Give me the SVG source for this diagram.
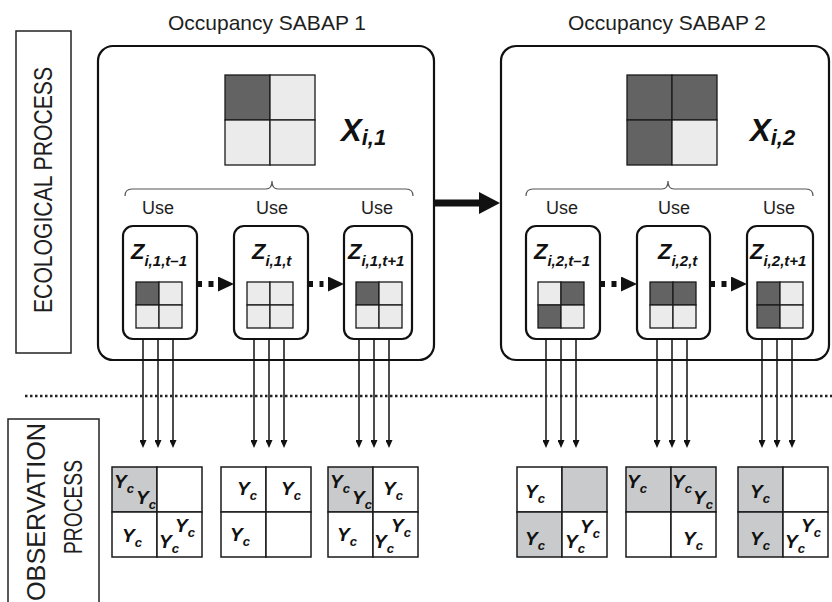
<svg xmlns="http://www.w3.org/2000/svg" width="832" height="602" viewBox="0 0 832 602">
<defs>
<style>
.lbl{font-family:"Liberation Sans",Arial,sans-serif;fill:#1e1e1e}
.ttl{font-size:21px}
.use{font-size:18px}
.side{font-size:25px}
.math{font-family:"Liberation Sans",Arial,sans-serif;font-weight:bold;font-style:italic;fill:#111}
.panel{fill:none;stroke:#111;stroke-width:2.2}
.zbox{fill:#fff;stroke:#111;stroke-width:2.2}
.lbox{fill:none;stroke:#222;stroke-width:1.5}
.dk{fill:#636363;stroke:#1a1a1a;stroke-width:1.3}
.lt{fill:#ebebeb;stroke:#1a1a1a;stroke-width:1.3}
.og{fill:#c9cacb;stroke:#1a1a1a;stroke-width:1.5}
.ow{fill:#fff;stroke:#1a1a1a;stroke-width:1.5}
.brace{fill:none;stroke:#555;stroke-width:1.2}
.vl{stroke:#111;stroke-width:1.5;marker-end:url(#ah)}
.dot{stroke:#111;stroke-width:6;stroke-dasharray:5 6.5;marker-end:url(#dh)}
.y{font-size:19px}
.c{font-size:13px}
</style>
<marker id="ah" viewBox="0 0 8 7" refX="2" refY="3.5" markerWidth="8" markerHeight="7" markerUnits="userSpaceOnUse" orient="auto"><path d="M0,0 L8,3.5 L0,7 z" fill="#111"/></marker>
<marker id="dh" viewBox="0 0 21 15" refX="0" refY="7.5" markerWidth="21" markerHeight="15" markerUnits="userSpaceOnUse" orient="auto"><path d="M4.5,0 L20.5,7.5 L4.5,15 z" fill="#111"/></marker>
</defs>
<rect width="832" height="602" fill="#fff"/>

<!-- side labels -->
<g id="label-ecological">
<rect class="lbox" x="16" y="31" width="55" height="322"/>
<text class="lbl side" transform="translate(52,190) rotate(-90)" text-anchor="middle" textLength="246" lengthAdjust="spacingAndGlyphs">ECOLOGICAL PROCESS</text>
</g>
<g id="label-observation">
<rect class="lbox" x="8" y="419" width="91" height="200"/>
<text class="lbl side" transform="translate(45,512) rotate(-90)" text-anchor="middle" textLength="178" lengthAdjust="spacingAndGlyphs">OBSERVATION</text>
<text class="lbl side" transform="translate(82,507) rotate(-90)" text-anchor="middle" textLength="94" lengthAdjust="spacingAndGlyphs">PROCESS</text>
</g>

<!-- panel 1 -->
<g id="panel-sabap1">
<text class="lbl ttl" x="267" y="30" text-anchor="middle">Occupancy SABAP 1</text>
<rect class="panel" x="98" y="46" width="336" height="314" rx="15"/>
<rect class="dk" x="225" y="75" width="45" height="45"/>
<rect class="lt" x="270" y="75" width="45" height="45"/>
<rect class="lt" x="225" y="120" width="45" height="45"/>
<rect class="lt" x="270" y="120" width="45" height="45"/>
<text class="math" x="341" y="141" font-size="31">X<tspan font-size="22" dy="4">i,1</tspan></text>
<path class="brace" d="M125,196 Q125,189 132,189 L266,189 Q272,189 272,181 Q272,189 278,189 L406,189 Q413,189 413,196"/>
<text class="lbl use" x="158" y="214" text-anchor="middle">Use</text>
<text class="lbl use" x="272" y="214" text-anchor="middle">Use</text>
<text class="lbl use" x="377" y="214" text-anchor="middle">Use</text>
</g>

<g id="z-1-tm1">
<rect class="zbox" x="123" y="226" width="74" height="113" rx="10"/>
<text class="math" x="131" y="259" font-size="22">Z<tspan font-size="15" dy="7">i,1,t–1</tspan></text>
<rect class="dk" x="136" y="282" width="23" height="23"/><rect class="lt" x="159" y="282" width="23" height="23"/>
<rect class="lt" x="136" y="305" width="23" height="23"/><rect class="lt" x="159" y="305" width="23" height="23"/>
</g>
<g id="z-1-t">
<rect class="zbox" x="234" y="226" width="74" height="113" rx="10"/>
<text class="math" x="252" y="259" font-size="22">Z<tspan font-size="15" dy="7">i,1,t</tspan></text>
<rect class="lt" x="247" y="282" width="23" height="23"/><rect class="lt" x="270" y="282" width="23" height="23"/>
<rect class="lt" x="247" y="305" width="23" height="23"/><rect class="lt" x="270" y="305" width="23" height="23"/>
</g>
<g id="z-1-tp1">
<rect class="zbox" x="344" y="226" width="68" height="113" rx="10"/>
<text class="math" x="348" y="259" font-size="22">Z<tspan font-size="15" dy="7">i,1,t+1</tspan></text>
<rect class="dk" x="356" y="282" width="23" height="23"/><rect class="lt" x="379" y="282" width="23" height="23"/>
<rect class="lt" x="356" y="305" width="23" height="23"/><rect class="lt" x="379" y="305" width="23" height="23"/>
</g>

<!-- panel 2 -->
<g id="panel-sabap2">
<text class="lbl ttl" x="667" y="30" text-anchor="middle">Occupancy SABAP 2</text>
<rect class="panel" x="501" y="46" width="328" height="314" rx="15"/>
<rect class="dk" x="627" y="75" width="45" height="45"/>
<rect class="dk" x="672" y="75" width="45" height="45"/>
<rect class="dk" x="627" y="120" width="45" height="45"/>
<rect class="lt" x="672" y="120" width="45" height="45"/>
<text class="math" x="750" y="141" font-size="31">X<tspan font-size="22" dy="4">i,2</tspan></text>
<path class="brace" d="M526,196 Q526,189 533,189 L662,189 Q668,189 668,181 Q668,189 674,189 L806,189 Q813,189 813,196"/>
<text class="lbl use" x="562" y="214" text-anchor="middle">Use</text>
<text class="lbl use" x="674" y="214" text-anchor="middle">Use</text>
<text class="lbl use" x="779" y="214" text-anchor="middle">Use</text>
</g>

<g id="z-2-tm1">
<rect class="zbox" x="526" y="226" width="74" height="113" rx="10"/>
<text class="math" x="534" y="259" font-size="22">Z<tspan font-size="15" dy="7">i,2,t–1</tspan></text>
<rect class="lt" x="538" y="282" width="23" height="23"/><rect class="dk" x="561" y="282" width="23" height="23"/>
<rect class="dk" x="538" y="305" width="23" height="23"/><rect class="lt" x="561" y="305" width="23" height="23"/>
</g>
<g id="z-2-t">
<rect class="zbox" x="637" y="226" width="73" height="113" rx="10"/>
<text class="math" x="658" y="259" font-size="22">Z<tspan font-size="15" dy="7">i,2,t</tspan></text>
<rect class="dk" x="650" y="282" width="23" height="23"/><rect class="dk" x="673" y="282" width="23" height="23"/>
<rect class="lt" x="650" y="305" width="23" height="23"/><rect class="lt" x="673" y="305" width="23" height="23"/>
</g>
<g id="z-2-tp1">
<rect class="zbox" x="747" y="226" width="66" height="113" rx="10"/>
<text class="math" x="750" y="259" font-size="22">Z<tspan font-size="15" dy="7">i,2,t+1</tspan></text>
<rect class="dk" x="757" y="282" width="23" height="23"/><rect class="lt" x="780" y="282" width="23" height="23"/>
<rect class="dk" x="757" y="305" width="23" height="23"/><rect class="lt" x="780" y="305" width="23" height="23"/>
</g>

<!-- connectors -->
<g id="connectors">
<line x1="434" y1="203" x2="481" y2="203" stroke="#111" stroke-width="7"/>
<polygon points="479,192 500,203 479,214" fill="#111"/>
<line class="dot" x1="197" y1="284" x2="213.5" y2="284"/>
<line class="dot" x1="308" y1="284" x2="323.5" y2="284"/>
<line class="dot" x1="600" y1="284" x2="616.5" y2="284"/>
<line class="dot" x1="710" y1="284" x2="726.5" y2="284"/>
<line class="vl" x1="143" y1="339" x2="143" y2="442"/>
<line class="vl" x1="158" y1="339" x2="158" y2="442"/>
<line class="vl" x1="173" y1="339" x2="173" y2="442"/>
<line class="vl" x1="254" y1="339" x2="254" y2="442"/>
<line class="vl" x1="269" y1="339" x2="269" y2="442"/>
<line class="vl" x1="284" y1="339" x2="284" y2="442"/>
<line class="vl" x1="359" y1="339" x2="359" y2="442"/>
<line class="vl" x1="374" y1="339" x2="374" y2="442"/>
<line class="vl" x1="389" y1="339" x2="389" y2="442"/>
<line class="vl" x1="546" y1="339" x2="546" y2="442"/>
<line class="vl" x1="561" y1="339" x2="561" y2="442"/>
<line class="vl" x1="576" y1="339" x2="576" y2="442"/>
<line class="vl" x1="657" y1="339" x2="657" y2="442"/>
<line class="vl" x1="672" y1="339" x2="672" y2="442"/>
<line class="vl" x1="687" y1="339" x2="687" y2="442"/>
<line class="vl" x1="762" y1="339" x2="762" y2="442"/>
<line class="vl" x1="777" y1="339" x2="777" y2="442"/>
<line class="vl" x1="792" y1="339" x2="792" y2="442"/>
</g>

<line x1="25" y1="396" x2="832" y2="396" stroke="#222" stroke-width="2.5" stroke-dasharray="2.5 2.5"/>

<!-- observation grids -->
<g id="obs-1-1">
<rect class="og" x="112" y="467" width="45" height="45"/><rect class="ow" x="157" y="467" width="45" height="45"/>
<rect class="ow" x="112" y="512" width="45" height="45"/><rect class="ow" x="157" y="512" width="45" height="45"/>
<text class="math y" x="114" y="488">Y<tspan class="c" dy="5">c</tspan></text>
<text class="math y" x="136" y="504">Y<tspan class="c" dy="5">c</tspan></text>
<text class="math y" x="122" y="542">Y<tspan class="c" dy="5">c</tspan></text>
<text class="math y" x="159" y="548">Y<tspan class="c" dy="5">c</tspan></text>
<text class="math y" x="175" y="532">Y<tspan class="c" dy="5">c</tspan></text>
</g>
<g id="obs-1-2">
<rect class="ow" x="221" y="467" width="45" height="45"/><rect class="ow" x="266" y="467" width="45" height="45"/>
<rect class="ow" x="221" y="512" width="45" height="45"/><rect class="ow" x="266" y="512" width="45" height="45"/>
<text class="math y" x="237" y="495">Y<tspan class="c" dy="5">c</tspan></text>
<text class="math y" x="281" y="495">Y<tspan class="c" dy="5">c</tspan></text>
<text class="math y" x="230" y="541">Y<tspan class="c" dy="5">c</tspan></text>
</g>
<g id="obs-1-3">
<rect class="og" x="328" y="467" width="45" height="45"/><rect class="ow" x="373" y="467" width="45" height="45"/>
<rect class="ow" x="328" y="512" width="45" height="45"/><rect class="ow" x="373" y="512" width="45" height="45"/>
<text class="math y" x="330" y="488">Y<tspan class="c" dy="5">c</tspan></text>
<text class="math y" x="352" y="504">Y<tspan class="c" dy="5">c</tspan></text>
<text class="math y" x="383" y="495">Y<tspan class="c" dy="5">c</tspan></text>
<text class="math y" x="337" y="541">Y<tspan class="c" dy="5">c</tspan></text>
<text class="math y" x="374" y="548">Y<tspan class="c" dy="5">c</tspan></text>
<text class="math y" x="391" y="532">Y<tspan class="c" dy="5">c</tspan></text>
</g>
<g id="obs-2-1">
<rect class="ow" x="517" y="467" width="45" height="45"/><rect class="og" x="562" y="467" width="45" height="45"/>
<rect class="og" x="517" y="512" width="45" height="45"/><rect class="ow" x="562" y="512" width="45" height="45"/>
<text class="math y" x="525" y="498">Y<tspan class="c" dy="5">c</tspan></text>
<text class="math y" x="525" y="545">Y<tspan class="c" dy="5">c</tspan></text>
<text class="math y" x="565" y="548">Y<tspan class="c" dy="5">c</tspan></text>
<text class="math y" x="580" y="533">Y<tspan class="c" dy="5">c</tspan></text>
</g>
<g id="obs-2-2">
<rect class="og" x="626" y="467" width="45" height="45"/><rect class="og" x="671" y="467" width="45" height="45"/>
<rect class="ow" x="626" y="512" width="45" height="45"/><rect class="ow" x="671" y="512" width="45" height="45"/>
<text class="math y" x="627" y="488">Y<tspan class="c" dy="5">c</tspan></text>
<text class="math y" x="672" y="488">Y<tspan class="c" dy="5">c</tspan></text>
<text class="math y" x="693" y="504">Y<tspan class="c" dy="5">c</tspan></text>
<text class="math y" x="683" y="545">Y<tspan class="c" dy="5">c</tspan></text>
</g>
<g id="obs-2-3">
<rect class="og" x="738" y="467" width="45" height="45"/><rect class="ow" x="783" y="467" width="45" height="45"/>
<rect class="og" x="738" y="512" width="45" height="45"/><rect class="ow" x="783" y="512" width="45" height="45"/>
<text class="math y" x="750" y="498">Y<tspan class="c" dy="5">c</tspan></text>
<text class="math y" x="750" y="545">Y<tspan class="c" dy="5">c</tspan></text>
<text class="math y" x="785" y="548">Y<tspan class="c" dy="5">c</tspan></text>
<text class="math y" x="801" y="532">Y<tspan class="c" dy="5">c</tspan></text>
</g>
</svg>
